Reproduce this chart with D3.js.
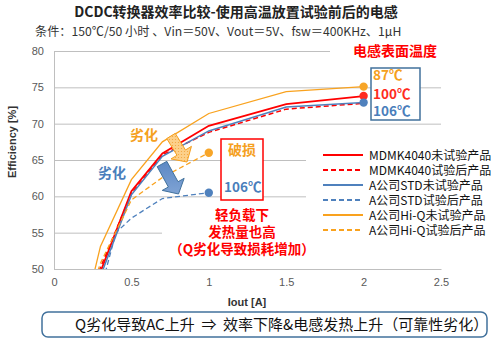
<!DOCTYPE html>
<html><head><meta charset="utf-8">
<script src="https://cdn.jsdelivr.net/npm/d3@7"></script>
<style>
html,body{margin:0;padding:0;background:#fff;}
svg{display:block;font-family:"Noto Sans CJK SC","Noto Sans",sans-serif;}
</style></head>
<body><svg id="c" width="500" height="340"></svg>
<script>
// ---- data ----
const loadCurrent = [0.2, 0.3, 0.5, 0.7, 1.0, 1.5, 2.0];
const mdmkBefore  = [44.0, 49.6, 60.7, 65.9, 69.7, 72.7, 73.8];
const mdmkAfter   = [44.5, 50.2, 60.4, 65.7, 68.8, 72.0, 72.8];
const stdBefore   = [43.5, 49.0, 60.2, 65.5, 69.0, 72.3, 72.9];
const hiqBefore   = [44.2, 53.1, 62.3, 67.5, 71.4, 74.4, 75.1];
const hiqAfterX   = [0.2, 0.3, 0.5, 0.7, 1.0];
const hiqAfter    = [44.5, 50.8, 59.5, 62.6, 66.0];
const stdAfterX   = [0.2, 0.3, 0.4, 0.5, 0.7, 1.0];
const stdAfter    = [40.0, 47.0, 55.0, 57.0, 59.7, 60.5];
const yTicks = [50, 55, 60, 65, 70, 75, 80];
const xTicks = [0, 0.5, 1, 1.5, 2, 2.5];
const legendLabels = ["MDMK4040未试验产品","MDMK4040试验后产品","A公司STD未试验产品","A公司STD试验后产品","A公司Hi-Q未试验产品","A公司Hi-Q试验后产品"];
const tempLabels = ["87℃","100℃","106℃"];

const RED="#FF0000", BLUE="#4F81BD", ORANGE="#F9A21E";
const series = [
  {x: loadCurrent, y: mdmkBefore, c: RED, dash: null, w: 1.8},
  {x: loadCurrent, y: mdmkAfter, c: RED, dash: "5,3", w: 1.5},
  {x: loadCurrent, y: stdBefore, c: BLUE, dash: null, w: 1.5},
  {x: stdAfterX, y: stdAfter, c: BLUE, dash: "5,3", w: 1.3},
  {x: loadCurrent, y: hiqBefore, c: ORANGE, dash: null, w: 1.3},
  {x: hiqAfterX, y: hiqAfter, c: ORANGE, dash: "5,3", w: 1.3}
];

const svg = d3.select("#c");
const x = d3.scaleLinear().domain([0, 2.5]).range([54, 441]);
const y = d3.scaleLinear().domain([50, 80]).range([269, 51]);

// title
svg.append("text").attr("x",236).attr("y",17).attr("text-anchor","middle")
  .attr("font-size",14).attr("font-weight","bold").attr("fill","#222")
  .text("DCDC转换器效率比较-使用高温放置试验前后的电感");
svg.append("text").attr("x",35).attr("y",35.5)
  .attr("font-size",12.2).attr("fill","#333")
  .text("条件：150℃/50 小时 、Vin＝50V、Vout＝5V、fsw＝400KHz、1μH");

// grid
const grid = svg.append("g").attr("transform","translate(54,0)")
  .call(d3.axisLeft(y).tickValues(yTicks).tickSize(-(441-54)).tickFormat(""));
grid.select(".domain").remove();
grid.selectAll("line").attr("stroke","#BFBFBF").attr("stroke-width",1);

// y tick labels
const yl = svg.append("g").attr("transform","translate(54,0)")
  .call(d3.axisLeft(y).tickValues(yTicks).tickSize(0).tickPadding(10).tickFormat(d3.format("d")));
yl.select(".domain").attr("stroke","#BFBFBF");
yl.selectAll("text").attr("font-size",11).attr("fill","#595959").attr("font-family","Liberation Sans, Arial, sans-serif");

const xl = svg.append("g").attr("transform","translate(0,269)")
  .call(d3.axisBottom(x).tickValues(xTicks).tickSize(0).tickPadding(9).tickFormat(d => d3.format("")(d)));
xl.select(".domain").attr("stroke","#BFBFBF");
xl.selectAll("text").attr("font-size",11).attr("fill","#595959").attr("font-family","Liberation Sans, Arial, sans-serif");

// axis titles
svg.append("text").attr("transform","translate(16,142) rotate(-90)").attr("text-anchor","middle")
  .attr("font-size",11).attr("font-weight","bold").attr("fill","#333")
  .attr("font-family","Liberation Sans, Arial, sans-serif").text("Efficiency [%]");
svg.append("text").attr("x",247).attr("y",306).attr("text-anchor","middle")
  .attr("font-size",11).attr("font-weight","bold").attr("fill","#333")
  .attr("font-family","Liberation Sans, Arial, sans-serif").text("Iout [A]");

// white backgrounds of text blocks (cover gridlines)
svg.append("rect").attr("x",330).attr("y",43).attr("width",120).attr("height",16).attr("fill","#fff");
svg.append("rect").attr("x",306).attr("y",140).attr("width",194).attr("height",100).attr("fill","#fff");
svg.append("rect").attr("x",162).attr("y",205).attr("width",160).attr("height",55).attr("fill","#fff");

// boxes
svg.append("rect").attr("x",371).attr("y",68).attr("width",49).attr("height",52)
  .attr("fill","#fff").attr("stroke","#41719C").attr("stroke-width",1.5);
svg.append("rect").attr("x",221).attr("y",139).attr("width",42).attr("height",61)
  .attr("fill","#fff").attr("stroke","#FF0000").attr("stroke-width",1.5);

// curves
svg.append("clipPath").attr("id","pc").append("rect")
  .attr("x",54).attr("y",40).attr("width",400).attr("height",229);
const line = d3.line().x(d => x(d[0])).y(d => y(d[1]));
series.forEach(s => {
  const pts = s.x.map((xv,i) => [xv, s.y[i]]);
  svg.append("path").attr("d", line(pts)).attr("fill","none")
    .attr("stroke", s.c).attr("stroke-width", s.w)
    .attr("stroke-dasharray", s.dash).attr("clip-path","url(#pc)");
});

// end dots
const dots = [
  [2.0, hiqBefore[6], "#F7A528"], [2.0, mdmkBefore[6], "#FF2B1F"], [2.0, stdBefore[6], BLUE],
  [1.0, hiqAfter[4], "#F7A528"], [1.0, stdAfter[5], BLUE]
];
svg.selectAll("circle.dot").data(dots).enter().append("circle")
  .attr("cx", d => x(d[0])).attr("cy", d => y(d[1])).attr("r", 4.2).attr("fill", d => d[2]);

// temperature labels
const tCols = ["#F5A020", "#FF2B1F", "#4A7EBB"];
const tY = [80, 99, 116];
tempLabels.forEach((t,i) => svg.append("text").attr("x",373).attr("y",tY[i])
  .attr("font-size",13.5).attr("font-weight","bold").attr("fill",tCols[i]).text(t));
svg.append("text").attr("x",395).attr("y",56).attr("text-anchor","middle")
  .attr("font-size",14).attr("font-weight","bold").attr("fill","#FF0000").text("电感表面温度");

// 破损 box texts
svg.append("text").attr("x",242).attr("y",155).attr("text-anchor","middle")
  .attr("font-size",14).attr("font-weight","bold").attr("fill","#F5A020").text("破损");
svg.append("text").attr("x",224).attr("y",192)
  .attr("font-size",13.5).attr("font-weight","bold").attr("fill","#4A7EBB").text("106℃");

// red comment
["轻负载下","发热量也高","（Q劣化导致损耗增加）"].forEach((t,i) =>
  svg.append("text").attr("x",242).attr("y",220 + i*17).attr("text-anchor","middle")
    .attr("font-size",13.5).attr("font-weight","bold").attr("fill","#FF0000").text(t));

// 劣化 labels
svg.append("text").attr("x",144).attr("y",140).attr("text-anchor","middle")
  .attr("font-size",14).attr("font-weight","bold").attr("fill","#F5A020").text("劣化");
svg.append("text").attr("x",112).attr("y",178).attr("text-anchor","middle")
  .attr("font-size",14).attr("font-weight","bold").attr("fill","#4A7EBB").text("劣化");

// arrows
const defs = svg.append("defs");
const pat = defs.append("pattern").attr("id","dotp").attr("patternUnits","userSpaceOnUse")
  .attr("width",3).attr("height",3);
pat.append("rect").attr("width",3).attr("height",3).attr("fill","#FCD08A");
pat.append("circle").attr("cx",1.5).attr("cy",1.5).attr("r",0.6).attr("fill","#F3A33A");
const grad = defs.append("linearGradient").attr("id","bgr").attr("x1",0).attr("y1",0).attr("x2",0).attr("y2",1);
grad.append("stop").attr("offset","0%").attr("stop-color","#5C88C4");
grad.append("stop").attr("offset","100%").attr("stop-color","#7FA3D4");
function arrow(t, h, sw, hw, hl) {
  const dx = h[0]-t[0], dy = h[1]-t[1], L = Math.hypot(dx,dy);
  const ux = dx/L, uy = dy/L, px = -uy, py = ux;
  const bx = h[0]-ux*hl, by = h[1]-uy*hl;
  return [
    [t[0]+px*sw, t[1]+py*sw], [bx+px*sw, by+py*sw], [bx+px*hw, by+py*hw], h,
    [bx-px*hw, by-py*hw], [bx-px*sw, by-py*sw], [t[0]-px*sw, t[1]-py*sw]
  ];
}
const ptsStr = a => a.map(p => p.join(",")).join(" ");
svg.append("polygon").attr("points", ptsStr(arrow([171,136],[187,162],5,12,11)))
  .attr("fill","url(#dotp)").attr("stroke","#F5A020").attr("stroke-width",1);
svg.append("polygon").attr("points", ptsStr(arrow([162,164],[178.5,194],5.5,12.5,11)))
  .attr("fill","url(#bgr)").attr("stroke","#41719C").attr("stroke-width",1);

// legend
legendLabels.forEach((t,i) => {
  const s = series[i], yy = 155 + i*15;
  svg.append("line").attr("x1",323).attr("x2",363).attr("y1",yy).attr("y2",yy)
    .attr("stroke",s.c).attr("stroke-width",2).attr("stroke-dasharray",s.dash);
  svg.append("text").attr("x",369).attr("y",yy+4.5).attr("font-size",12).attr("fill","#111").text(t);
});

// bottom conclusion box
svg.append("rect").attr("x",42).attr("y",312).attr("width",445).attr("height",25).attr("rx",6)
  .attr("fill","#fff").attr("stroke","#41719C").attr("stroke-width",1.5);
svg.append("text").attr("x",75).attr("y",330).attr("font-size",15).attr("fill","#111")
  .style("white-space","pre")
  .text("Q劣化导致AC上升  ⇒  效率下降&电感发热上升（可靠性劣化）");
</script></body></html>
